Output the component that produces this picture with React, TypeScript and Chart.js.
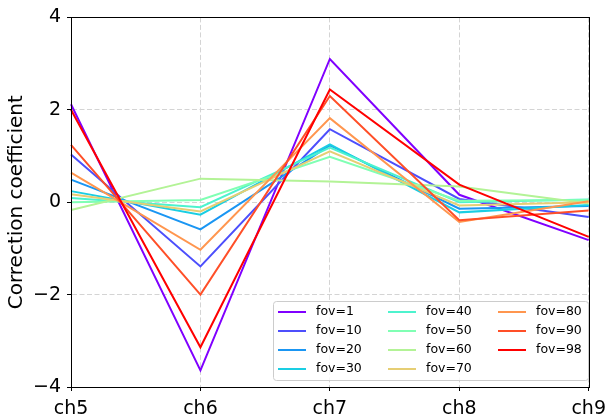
import React, { useEffect, useRef } from 'react';
import { Chart, registerables } from 'chart.js';

Chart.register(...registerables);

const categories = ['ch5', 'ch6', 'ch7', 'ch8', 'ch9'];
const fovLabels = ['fov=1', 'fov=10', 'fov=20', 'fov=30', 'fov=40', 'fov=50', 'fov=60', 'fov=70', 'fov=80', 'fov=90', 'fov=98'];

const fov1 = [2.12, -3.64, 3.10, 0.16, -0.82];
const fov10 = [1.03, -1.39, 1.58, 0.07, -0.32];
const fov20 = [0.49, -0.59, 1.23, -0.14, -0.08];
const fov30 = [0.24, -0.27, 1.25, -0.22, -0.06];
const fov40 = [0.09, -0.11, 1.18, 0.0, 0.06];
const fov50 = [0.0, 0.05, 0.98, 0.03, 0.05];
const fov60 = [-0.17, 0.51, 0.45, 0.34, -0.03];
const fov70 = [0.17, -0.2, 1.10, -0.07, 0.0];
const fov80 = [0.64, -1.03, 1.82, -0.43, 0.02];
const fov90 = [1.24, -2.0, 2.30, -0.39, -0.18];
const fov98 = [2.0, -3.14, 2.44, 0.38, -0.75];

const seriesValues = [fov1, fov10, fov20, fov30, fov40, fov50, fov60, fov70, fov80, fov90, fov98];
const seriesColors = ['#8000ff', '#4d4ffc', '#1a96f3', '#1acee3', '#4df3ce', '#80ffb4', '#b3f396', '#e6ce74', '#ff964f', '#ff4f28', '#ff0000'];
const yTicks = [-4, -2, 0, 2, 4];

const FONT = "'DejaVu Sans', sans-serif";

const framePlugin = {
  id: 'frame',
  afterDatasetsDraw(chart: any) {
    const { ctx, chartArea: a } = chart;
    ctx.save();
    ctx.strokeStyle = '#000';
    ctx.lineWidth = 1;
    ctx.strokeRect(Math.round(a.left) + 0.5, Math.round(a.top) + 0.5, Math.round(a.right - a.left), Math.round(a.bottom - a.top));
    ctx.restore();
  },
};

const legendPlugin = {
  id: 'customLegend',
  afterDraw(chart: any) {
    const { ctx } = chart;
    const bx = 273.5, by = 301.5, bw = 315, bh = 79, r = 3;
    ctx.save();
    ctx.beginPath();
    ctx.moveTo(bx + r, by);
    ctx.lineTo(bx + bw - r, by);
    ctx.quadraticCurveTo(bx + bw, by, bx + bw, by + r);
    ctx.lineTo(bx + bw, by + bh - r);
    ctx.quadraticCurveTo(bx + bw, by + bh, bx + bw - r, by + bh);
    ctx.lineTo(bx + r, by + bh);
    ctx.quadraticCurveTo(bx, by + bh, bx, by + bh - r);
    ctx.lineTo(bx, by + r);
    ctx.quadraticCurveTo(bx, by, bx + r, by);
    ctx.closePath();
    ctx.fillStyle = 'rgba(255,255,255,0.8)';
    ctx.fill();
    ctx.strokeStyle = '#cccccc';
    ctx.lineWidth = 1;
    ctx.stroke();
    const colX = [278, 388, 498];
    const rowY0 = 312, rowDy = 19;
    ctx.font = `12.5px ${FONT}`;
    ctx.textBaseline = 'middle';
    ctx.textAlign = 'left';
    chart.data.datasets.forEach((ds: any, i: number) => {
      const col = Math.floor(i / 4);
      const row = i % 4;
      const x = colX[col];
      const y = rowY0 + row * rowDy;
      ctx.beginPath();
      ctx.strokeStyle = ds.borderColor;
      ctx.lineWidth = 2;
      ctx.moveTo(x, y);
      ctx.lineTo(x + 28, y);
      ctx.stroke();
      ctx.fillStyle = '#000';
      ctx.fillText(ds.label, x + 38, y);
    });
    ctx.restore();
  },
};

export default function App() {
  const canvasRef = useRef<HTMLCanvasElement | null>(null);

  useEffect(() => {
    const canvas = canvasRef.current;
    if (!canvas) return;
    const n = seriesValues.length;
    const chart = new Chart(canvas, {
      type: 'line',
      data: {
        labels: categories,
        datasets: seriesValues.map((vals, i) => ({
          label: fovLabels[i],
          data: vals,
          borderColor: seriesColors[i],
          backgroundColor: seriesColors[i],
          borderWidth: 2,
          pointRadius: 0,
          tension: 0,
          fill: false,
          order: n - i,
        })),
      },
      options: {
        responsive: false,
        animation: false,
        devicePixelRatio: 1,
        layout: { padding: { top: 13, right: 18, left: 0, bottom: 0 } },
        plugins: {
          legend: { display: false },
          tooltip: { enabled: false },
          title: { display: false },
        },
        scales: {
          x: {
            type: 'category',
            offset: false,
            grid: {
              color: '#d4d4d4',
              lineWidth: 1,
              tickLength: 4,
              tickColor: '#000',
              tickBorderDash: [],
            },
            border: { display: true, color: '#000', width: 1, dash: [5, 2.5] },
            ticks: {
              color: '#000',
              font: { family: FONT, size: 19 },
              padding: 7,
              maxRotation: 0,
              autoSkip: false,
            },
            afterFit: (scale: any) => {
              scale.height = 30;
            },
          },
          y: {
            type: 'linear',
            min: -4,
            max: 4,
            grid: {
              color: '#d4d4d4',
              lineWidth: 1,
              tickLength: 4,
              tickColor: '#000',
              tickBorderDash: [],
            },
            border: { display: true, color: '#000', width: 1, dash: [5, 2.5] },
            ticks: {
              color: '#000',
              font: { family: FONT, size: 19 },
              padding: 6,
              callback: (v: any) => String(v).replace('-', '\u2212'),
            },
            afterBuildTicks: (scale: any) => {
              scale.ticks = yTicks.map((v) => ({ value: v }));
            },
            afterFit: (scale: any) => {
              scale.width = 71;
            },
            title: {
              display: true,
              text: 'Correction coefficient',
              color: '#000',
              font: { family: FONT, size: 20 },
              padding: { top: 5, bottom: 0 },
            },
          },
        },
      },
      plugins: [framePlugin, legendPlugin],
    });
    return () => chart.destroy();
  }, []);

  return (
    <div style={{ position: 'absolute', left: 0, top: 0, width: 613, height: 417 }}>
      <canvas ref={canvasRef} width={613} height={417} />
    </div>
  );
}
